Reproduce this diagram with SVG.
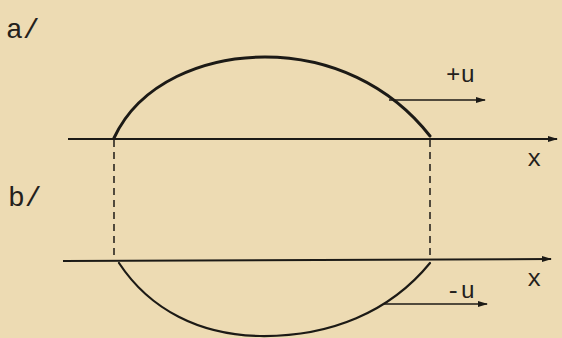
<svg xmlns="http://www.w3.org/2000/svg" width="562" height="338" viewBox="0 0 562 338">
<defs>
<style>
.ax{stroke:#1c1a16;stroke-width:2;fill:none}
.cv{stroke:#1c1a16;fill:none;stroke-linecap:round}
.ds{stroke:#2a2620;stroke-width:1.6;stroke-dasharray:7 5;fill:none}
.ar{stroke:#1c1a16;stroke-width:1.6;fill:none}
.t{font-family:"Liberation Mono","DejaVu Sans Mono",monospace;font-size:24px;fill:#24211c}
.big{font-size:28px}
</style>
<marker id="ah" markerWidth="10" markerHeight="8" refX="9" refY="4" orient="auto" markerUnits="userSpaceOnUse">
<path d="M0,1 L10,4 L0,7" fill="#1c1a16" stroke="none"/>
</marker>
</defs>
<rect width="562" height="338" fill="#eddbb3"/>
<g id="labels">
<text class="t big" x="6" y="38">a/</text>
<text class="t big" x="8" y="206">b/</text>
</g>
<g id="axis-a">
<line class="ax" x1="68" y1="139" x2="557" y2="139" marker-end="url(#ah)"/>
<text class="t" x="527" y="166">x</text>
</g>
<g id="axis-b">
<line class="ax" x1="63" y1="261" x2="551" y2="259" marker-end="url(#ah)"/>
<text class="t" x="527" y="286">x</text>
</g>
<g id="curve-a">
<path class="cv" stroke-width="3" d="M114,138 C140,82 205,57 265,57 C330,57 390,85 430,136"/>
</g>
<g id="curve-b">
<path class="cv" stroke-width="2.2" d="M119,263 C150,310 200,335 260,336 C330,337 390,312 430,263"/>
</g>
<g id="connectors">
<line class="ds" x1="114" y1="140" x2="114" y2="260"/>
<line class="ds" x1="430" y1="140" x2="430" y2="260"/>
<line class="ar" x1="389" y1="100" x2="485" y2="100" marker-end="url(#ah)"/>
<line class="ar" x1="384" y1="304" x2="487" y2="304" marker-end="url(#ah)"/>
</g>
<g id="velocity-labels">
<text class="t" x="446" y="82">+u</text>
<text class="t" x="446" y="298">-u</text>
</g>
</svg>
